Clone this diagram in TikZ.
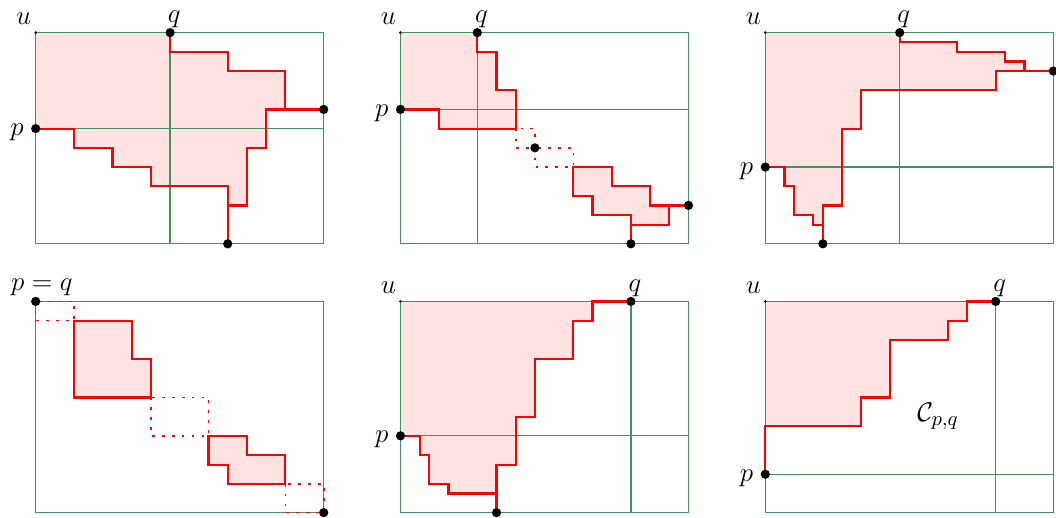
\documentclass[tikz,border=0pt]{standalone}
\usepackage{amsmath}
\usepackage{amssymb}
\usepackage{xcolor}
\usetikzlibrary{positioning}

\definecolor{gridgreen}{RGB}{70,145,100}
\tikzset{
	box/.style={draw=gridgreen, line width=0.55pt},
	stair/.style={draw=red, line width=1pt},
	region/.style={fill=red!11},
	gap/.style={draw=red, line width=0.7pt, dash pattern=on 1.2pt off 3.2pt},
	pt/.style={circle, fill=black, inner sep=0pt, minimum size=4.1pt},
	upt/.style={circle, fill=black, inner sep=0pt, minimum size=1.3pt},
	lbl/.style={inner sep=0pt, font=\fontsize{12.5}{15}\selectfont}
}

\begin{document}
\begin{tikzpicture}[x=0.3cm, y=-0.3cm]
	\useasboundingbox (-1.86,-1.70) rectangle (53.14,25.23);
	
	% top left
	\begin{scope}
		\coordinate (u1) at (0,0);
		\coordinate (p1) at (0,5);
		\coordinate (q1) at (7,0);
		\coordinate (r1) at (15,4);
		\coordinate (s1) at (10,11);
		\fill[region] (u1) -- (q1) -- (7,1) -- (10,1) -- (10,2) -- (13,2) -- (13,4) -- (12,4) -- (12,6) -- (11,6) -- (11,9) -- (10,9) -- (10,8) -- (6,8) -- (6,7) -- (4,7) -- (4,6) -- (2,6) -- (2,5) -- (p1) -- cycle;
		\draw[box] (u1) rectangle (15,11) (7,0) -- (7,11) (0,5) -- (15,5);
		\draw[stair] (q1) -- (7,1) -- (10,1) -- (10,2) -- (13,2) -- (13,4) -- (r1);
		\draw[stair] (r1) -- (12,4) -- (12,6) -- (11,6) -- (11,9) -- (10,9) -- (s1);
		\draw[stair] (p1) -- (2,5) -- (2,6) -- (4,6) -- (4,7) -- (6,7) -- (6,8) -- (10,8) -- (10,9);
		\node[upt] (u1dot) at (u1) {};
		\node[pt] (p1dot) at (p1) {};
		\node[pt] (q1dot) at (q1) {};
		\node[pt] (r1dot) at (r1) {};
		\node[pt] (s1dot) at (s1) {};
		\node[lbl, above left=3.4pt and 1.8pt of u1] (u1lbl) {$u$};
		\node[lbl, left=5.2pt of p1, yshift=-1.7pt] (p1lbl) {$p$};
		\node[lbl, above=1.9pt of q1, xshift=1.8pt] (q1lbl) {$q$};
	\end{scope}
	
	% top middle
	\begin{scope}[shift={(19,0)}]
		\coordinate (u2) at (0,0);
		\coordinate (p2) at (0,4);
		\coordinate (q2) at (4,0);
		\coordinate (m2) at (7,6);
		\coordinate (r2) at (15,9);
		\coordinate (s2) at (12,11);
		\fill[region] (u2) -- (q2) -- (4,1) -- (5,1) -- (5,3) -- (6,3) -- (6,5) -- (2,5) -- (2,4) -- (p2) -- cycle;
		\fill[region] (9,7) -- (11,7) -- (11,8) -- (13,8) -- (13,9) -- (14,9) -- (14,10) -- (12,10) -- (12,9.5) -- (10,9.5) -- (10,8.5) -- (9,8.5) -- cycle;
		\draw[box] (u2) rectangle (15,11) (4,0) -- (4,11) (0,4) -- (15,4);
		\draw[stair] (q2) -- (4,1) -- (5,1) -- (5,3) -- (6,3) -- (6,5) -- (2,5) -- (2,4) -- (p2);
		\draw[gap] (6,5) rectangle (m2) (m2) rectangle (9,7);
		\draw[stair] (r2) -- (13,9) -- (13,8) -- (11,8) -- (11,7) -- (9,7) -- (9,8.5) -- (10,8.5) -- (10,9.5) -- (12,9.5) -- (s2);
		\draw[stair] (12,10) -- (14,10) -- (14,9);
		\node[upt] (u2dot) at (u2) {};
		\node[pt] (p2dot) at (p2) {};
		\node[pt] (q2dot) at (q2) {};
		\node[pt] (m2dot) at (m2) {};
		\node[pt] (r2dot) at (r2) {};
		\node[pt] (s2dot) at (s2) {};
		\node[lbl, above left=3.4pt and 1.8pt of u2] (u2lbl) {$u$};
		\node[lbl, left=5.2pt of p2, yshift=-1.7pt] (p2lbl) {$p$};
		\node[lbl, above=1.9pt of q2, xshift=1.8pt] (q2lbl) {$q$};
	\end{scope}
	
	% top right
	\begin{scope}[shift={(38,0)}]
		\coordinate (u3) at (0,0);
		\coordinate (p3) at (0,7);
		\coordinate (q3) at (7,0);
		\coordinate (r3) at (15,2);
		\coordinate (s3) at (3,11);
		\fill[region] (u3) -- (q3) -- (7,0.5) -- (10,0.5) -- (10,1) -- (12.5,1) -- (12.5,1.5) -- (13.5,1.5) -- (13.5,2) -- (12,2) -- (12,3) -- (5,3) -- (5,5) -- (4,5) -- (4,9) -- (3,9) -- (3,10) -- (2.5,10) -- (2.5,9.5) -- (1.5,9.5) -- (1.5,8) -- (1,8) -- (1,7) -- (p3) -- cycle;
		\draw[box] (u3) rectangle (15,11) (7,0) -- (7,11) (0,7) -- (15,7);
		\draw[stair] (q3) -- (7,0.5) -- (10,0.5) -- (10,1) -- (12.5,1) -- (12.5,1.5) -- (13.5,1.5) -- (13.5,2) -- (r3);
		\draw[stair] (r3) -- (12,2) -- (12,3) -- (5,3) -- (5,5) -- (4,5) -- (4,9) -- (3,9) -- (s3);
		\draw[stair] (p3) -- (1,7) -- (1,8) -- (1.5,8) -- (1.5,9.5) -- (2.5,9.5) -- (2.5,10) -- (3,10);
		\node[upt] (u3dot) at (u3) {};
		\node[pt] (p3dot) at (p3) {};
		\node[pt] (q3dot) at (q3) {};
		\node[pt] (r3dot) at (r3) {};
		\node[pt] (s3dot) at (s3) {};
		\node[lbl, above left=3.4pt and 1.8pt of u3] (u3lbl) {$u$};
		\node[lbl, left=5.2pt of p3, yshift=-1.7pt] (p3lbl) {$p$};
		\node[lbl, above=1.9pt of q3, xshift=1.8pt] (q3lbl) {$q$};
	\end{scope}
	
	% bottom left
	\begin{scope}[shift={(0,14)}]
		\coordinate (pq4) at (0,0);
		\coordinate (r4) at (15,11);
		\draw[box] (pq4) rectangle (r4);
		\draw[gap] (pq4) rectangle (2,1) (6,5) rectangle (9,7) (13,9.5) rectangle (r4);
		\draw[stair, region] (2,1) -- (5,1) -- (5,3) -- (6,3) -- (6,5) -- (2,5) -- cycle;
		\draw[stair, region] (9,7) -- (11,7) -- (11,8) -- (13,8) -- (13,9.5) -- (10,9.5) -- (10,8.5) -- (9,8.5) -- cycle;
		\node[pt] (pq4dot) at (pq4) {};
		\node[pt] (r4dot) at (r4) {};
		\node[lbl, above=2.4pt of pq4, xshift=2.7pt] (pq4lbl) {$p=q$};
	\end{scope}
	
	% bottom middle
	\begin{scope}[shift={(19,14)}]
		\coordinate (u5) at (0,0);
		\coordinate (p5) at (0,7);
		\coordinate (q5) at (12,0);
		\coordinate (s5) at (5,11);
		\fill[region] (u5) -- (10,0) -- (10,1) -- (9,1) -- (9,3) -- (7,3) -- (7,6) -- (6,6) -- (6,8.5) -- (5,8.5) -- (5,10) -- (2.5,10) -- (2.5,9.5) -- (1.5,9.5) -- (1.5,8) -- (1,8) -- (1,7) -- (p5) -- cycle;
		\draw[box] (u5) rectangle (15,11) (12,0) -- (12,11) (0,7) -- (15,7);
		\draw[stair] (q5) -- (10,0) -- (10,1) -- (9,1) -- (9,3) -- (7,3) -- (7,6) -- (6,6) -- (6,8.5) -- (5,8.5) -- (s5);
		\draw[stair] (p5) -- (1,7) -- (1,8) -- (1.5,8) -- (1.5,9.5) -- (2.5,9.5) -- (2.5,10) -- (5,10);
		\node[upt] (u5dot) at (u5) {};
		\node[pt] (p5dot) at (p5) {};
		\node[pt] (q5dot) at (q5) {};
		\node[pt] (s5dot) at (s5) {};
		\node[lbl, above left=3.4pt and 1.8pt of u5] (u5lbl) {$u$};
		\node[lbl, left=5.2pt of p5, yshift=-1.7pt] (p5lbl) {$p$};
		\node[lbl, above=1.9pt of q5, xshift=1.8pt] (q5lbl) {$q$};
	\end{scope}
	
	% bottom right
	\begin{scope}[shift={(38,14)}]
		\coordinate (u6) at (0,0);
		\coordinate (p6) at (0,9);
		\coordinate (q6) at (12,0);
		\fill[region] (u6) -- (10.5,0) -- (10.5,1) -- (9.5,1) -- (9.5,2) -- (6.5,2) -- (6.5,5) -- (5,5) -- (5,6.5) -- (0,6.5) -- cycle;
		\draw[box] (u6) rectangle (15,11) (12,0) -- (12,11) (0,9) -- (15,9);
		\draw[stair] (q6) -- (10.5,0) -- (10.5,1) -- (9.5,1) -- (9.5,2) -- (6.5,2) -- (6.5,5) -- (5,5) -- (5,6.5) -- (0,6.5) -- (p6);
		\node[upt] (u6dot) at (u6) {};
		\node[pt] (p6dot) at (p6) {};
		\node[pt] (q6dot) at (q6) {};
		\node[lbl, above left=3.4pt and 1.8pt of u6] (u6lbl) {$u$};
		\node[lbl, left=5.2pt of p6, yshift=-1.7pt] (p6lbl) {$p$};
		\node[lbl, above=1.9pt of q6, xshift=1.8pt] (q6lbl) {$q$};
		\node[lbl] (cpq) at (9,6) {$\mathcal{C}_{p,q}$};
	\end{scope}
\end{tikzpicture}
\end{document}
